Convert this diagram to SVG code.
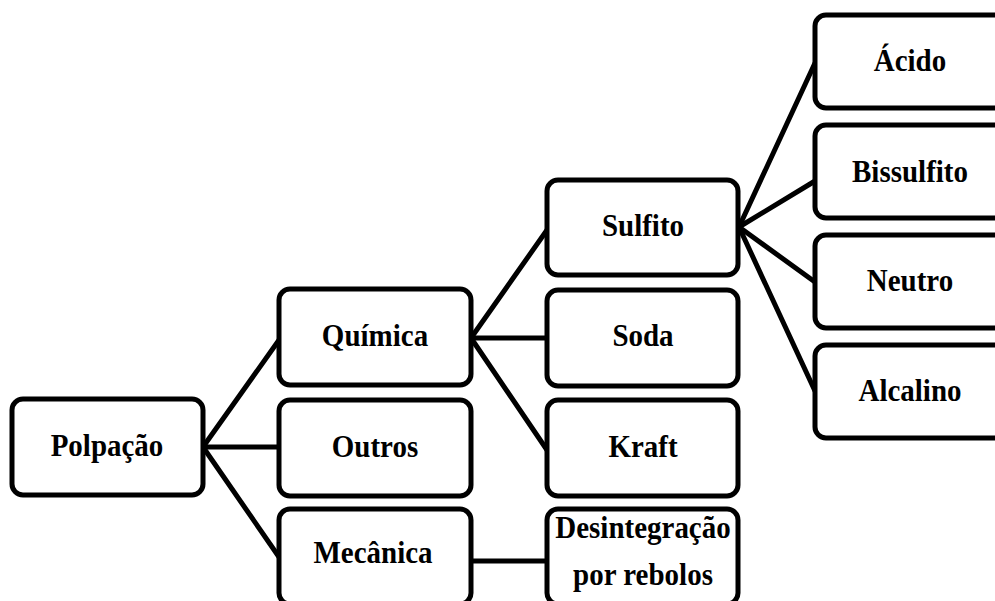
<svg xmlns="http://www.w3.org/2000/svg" width="995" height="601" viewBox="0 0 995 601">
<style>
.box{fill:#fff;stroke:#000;stroke-width:5}
.lbl{font-family:"Liberation Serif","Times New Roman",serif;font-weight:bold;font-size:29px;fill:#000;text-anchor:middle}
.con line{stroke:#000;stroke-width:5;stroke-linecap:round}
</style>
<rect width="995" height="601" fill="#fff"/>
<g id="connectors" class="con">
<line x1="203" y1="447" x2="279" y2="340"/>
<line x1="203" y1="447" x2="279" y2="447"/>
<line x1="203" y1="447" x2="279" y2="557"/>
<line x1="471" y1="338" x2="547" y2="230"/>
<line x1="471" y1="338" x2="547" y2="338"/>
<line x1="471" y1="338" x2="547" y2="450"/>
<line x1="739" y1="227" x2="815" y2="63"/>
<line x1="739" y1="227" x2="815" y2="181"/>
<line x1="739" y1="227" x2="815" y2="282"/>
<line x1="739" y1="227" x2="815" y2="391"/>
<line x1="471" y1="561" x2="547" y2="561"/>
</g>
<g id="polpacao"><rect class="box" x="12" y="399" width="191" height="96" rx="11"/><text class="lbl" transform="translate(107 456) scale(1 1.12)">Polpação</text></g>
<g id="quimica"><rect class="box" x="279" y="289" width="192" height="96" rx="11"/><text class="lbl" transform="translate(375 346) scale(1 1.12)">Química</text></g>
<g id="outros"><rect class="box" x="279" y="400" width="192" height="96" rx="11"/><text class="lbl" transform="translate(375 457) scale(1 1.12)">Outros</text></g>
<g id="mecanica"><rect class="box" x="279" y="509" width="192" height="95" rx="11"/><text class="lbl" transform="translate(373 563) scale(1 1.12)">Mecânica</text></g>
<g id="sulfito"><rect class="box" x="547" y="180" width="191" height="95" rx="11"/><text class="lbl" transform="translate(643 236) scale(1 1.12)">Sulfito</text></g>
<g id="soda"><rect class="box" x="547" y="290" width="191" height="96" rx="11"/><text class="lbl" transform="translate(643 346) scale(1 1.12)">Soda</text></g>
<g id="kraft"><rect class="box" x="547" y="400" width="191" height="96" rx="11"/><text class="lbl" transform="translate(643 457) scale(1 1.12)">Kraft</text></g>
<g id="desintegracao"><rect class="box" x="547" y="509" width="191" height="95" rx="11"/><text class="lbl" transform="translate(643 538) scale(1 1.12)">Desintegração</text><text class="lbl" transform="translate(643 585) scale(1 1.12)">por rebolos</text></g>
<g id="acido"><rect class="box" x="815" y="15" width="192" height="93" rx="11"/><text class="lbl" transform="translate(910 71) scale(1 1.12)">Ácido</text></g>
<g id="bissulfito"><rect class="box" x="815" y="125" width="192" height="93" rx="11"/><text class="lbl" transform="translate(910 182) scale(1 1.12)">Bissulfito</text></g>
<g id="neutro"><rect class="box" x="815" y="235" width="192" height="93" rx="11"/><text class="lbl" transform="translate(910 291) scale(1 1.12)">Neutro</text></g>
<g id="alcalino"><rect class="box" x="815" y="345" width="192" height="93" rx="11"/><text class="lbl" transform="translate(910 401) scale(1 1.12)">Alcalino</text></g>
</svg>
